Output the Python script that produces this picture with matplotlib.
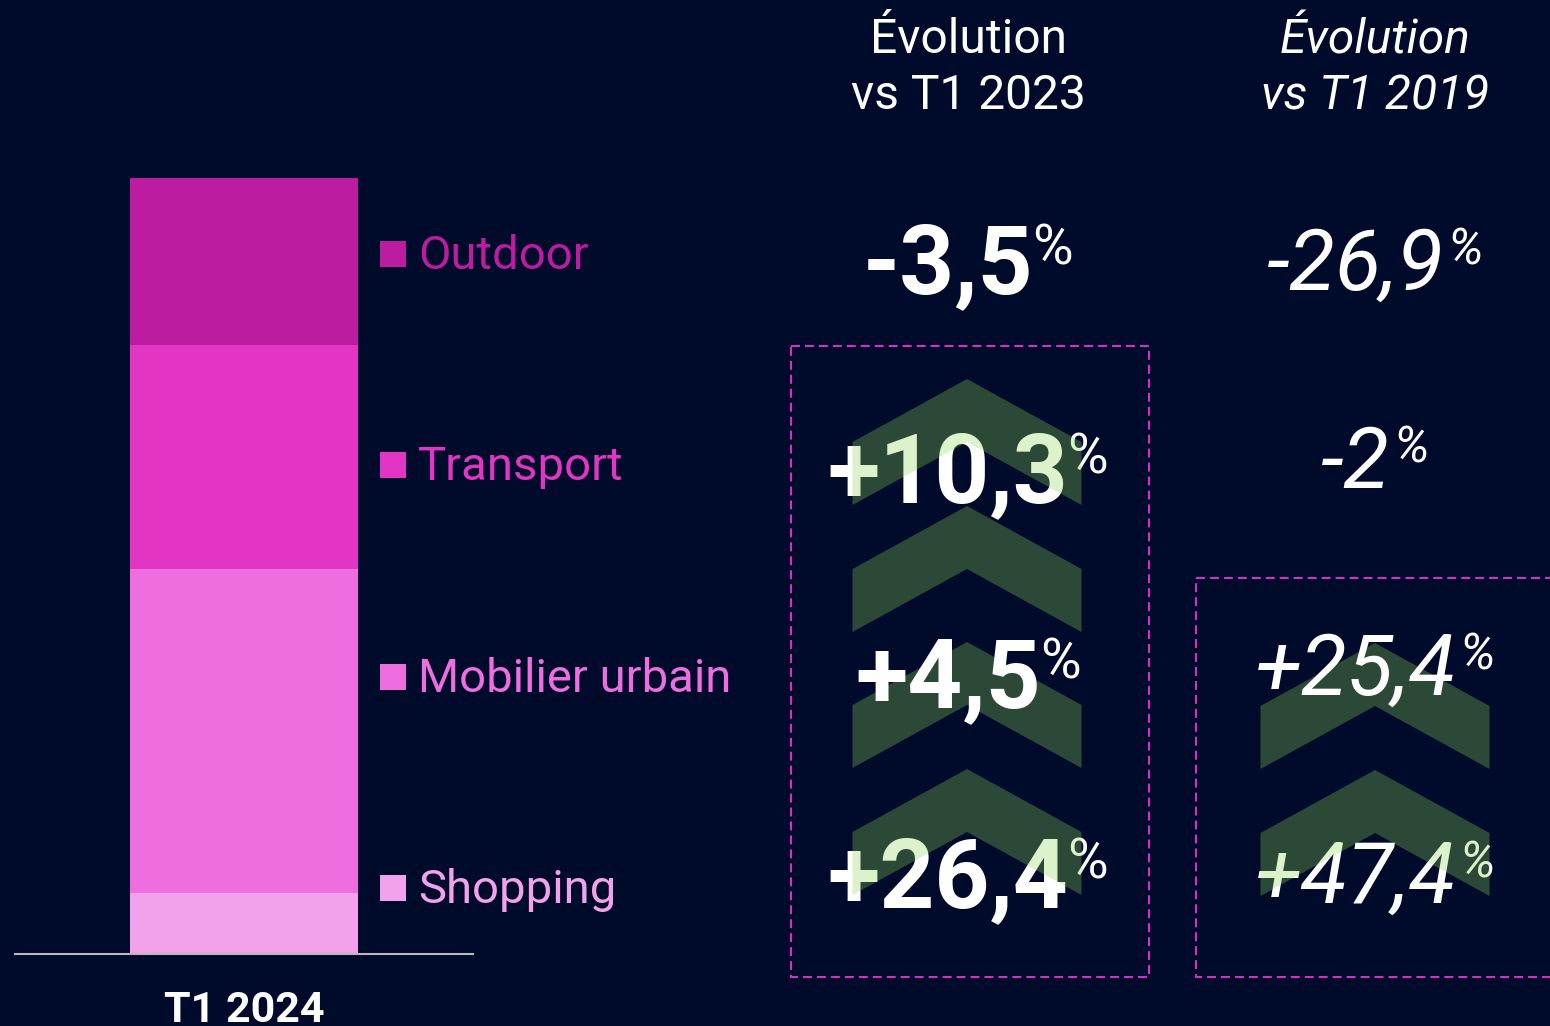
import matplotlib.pyplot as plt
from matplotlib.patches import Polygon, Rectangle

# data
categories = ['Shopping', 'Mobilier urbain', 'Transport', 'Outdoor']
shares = [7.9, 41.7, 28.9, 21.5]          # part of T1 2024, bottom to top
colors = ['#f2a2ea', '#ee6ee0', '#e235c3', '#bb1ca0']
period = 'T1 2024'

# rows in display order (top to bottom)
rows = ['Outdoor', 'Transport', 'Mobilier urbain', 'Shopping']
evol_2023 = ['-3,5', '+10,3', '+4,5', '+26,4']
evol_2019 = ['-26,9', '-2', '+25,4', '+47,4']
headers = [('Évolution', 'vs T1 2023'), ('Évolution', 'vs T1 2019')]

BG = '#000a2b'
plt.rcParams['font.family'] = ['Roboto', 'DejaVu Sans']

W, H = 1550, 1026
fig = plt.figure(figsize=(W / 100, H / 100), dpi=100)
fig.patch.set_facecolor(BG)

# stacked bar
axb = fig.add_axes([15 / W, (H - 954) / H, 458 / W, (954 - 178) / H])
axb.set_facecolor(BG)
bottom = 0
for cat, val, col in zip(categories, shares, colors):
    axb.bar(0, val, width=0.498, bottom=bottom, color=col, linewidth=0)
    bottom += val
axb.set_xlim(-0.5, 0.5)
axb.set_ylim(0, 100)
for s in ['top', 'left', 'right']:
    axb.spines[s].set_visible(False)
axb.spines['bottom'].set_color('#b8b8b8')
axb.spines['bottom'].set_linewidth(1.5)
axb.set_yticks([])
axb.set_xticks([0])
axb.set_xticklabels([period], fontsize=31, fontweight='bold', color='white')
axb.tick_params(axis='x', length=0, pad=26)

# overlay in pixel coordinates
ax = fig.add_axes([0, 0, 1, 1])
ax.set_xlim(0, W)
ax.set_ylim(H, 0)
ax.axis('off')
ax.patch.set_alpha(0)

cmap = dict(zip(categories, colors))
label_base = [269, 480, 692, 903]
for name, yb in zip(rows, label_base):
    ax.add_patch(Rectangle((380, yb - 28), 26, 26, color=cmap[name], lw=0))
    ax.text(418, yb, name, fontsize=34, color=cmap[name], va='baseline', ha='left')

col_x = [968, 1375]
for (l1, l2), cx, st in zip(headers, col_x, ['normal', 'italic']):
    ax.text(cx, 53, l1, fontsize=34.5, color='white', ha='center', va='baseline', style=st)
    ax.text(cx, 109, l2, fontsize=34.5, color='white', ha='center', va='baseline', style=st)

fig.canvas.draw()
renderer = fig.canvas.get_renderer()


def value(cx, yb, txt, size, weight, style, psize, z, gap):
    t = ax.text(0, yb, txt, fontsize=size, fontweight=weight, style=style,
                color='white', ha='left', va='baseline', zorder=z)
    p = ax.text(0, yb, '%', fontsize=psize, style=style, color='white',
                ha='left', va='top', zorder=z)
    wt = t.get_window_extent(renderer).width
    wp = p.get_window_extent(renderer).width
    x0 = cx - (wt + wp + gap) / 2
    t.set_x(x0)
    p.set_x(x0 + wt + gap)
    p.set_y(yb - size * 1.39 * 0.74)


base_2023 = [293, 502, 707, 907]
base_2019 = [290, 488, 695, 903]
text_z = [5, 2, 5, 2]
for v, yb, z in zip(evol_2023, base_2023, text_z):
    value(col_x[0], yb, v, 69, 'bold', 'normal', 40, z, gap=-1)
for v, yb, z in zip(evol_2019, base_2019, text_z):
    value(col_x[1], yb, v, 61, 'normal', 'italic', 36, z, gap=3)


def double_chevron(cx, top, width=229, step=63):
    for k in range(2):
        y0 = top + k * (2 * step + 1)
        pts = [(cx, y0), (cx + width / 2, y0 + step), (cx + width / 2, y0 + 2 * step),
               (cx, y0 + step), (cx - width / 2, y0 + 2 * step), (cx - width / 2, y0 + step)]
        ax.add_patch(Polygon(pts, closed=True, color='#91d857', alpha=0.31, lw=0, zorder=3))


double_chevron(col_x[0] - 1, 379)
double_chevron(col_x[0] - 1, 642)
double_chevron(col_x[1], 643)

box_kw = dict(fill=False, ec='#d62fc4', lw=1.5, ls=(0, (4.3, 2.4)), zorder=4)
ax.add_patch(Rectangle((791, 346), 358, 631, **box_kw))
ax.add_patch(Rectangle((1196, 578), 380, 399, **box_kw))

fig.savefig('out.png', dpi=100, facecolor=BG)
